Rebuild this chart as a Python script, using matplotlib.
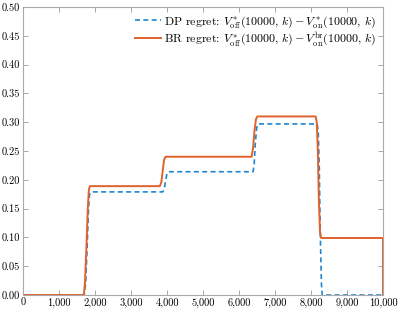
import matplotlib
matplotlib.use("Agg")
import matplotlib.pyplot as plt
from matplotlib.ticker import FuncFormatter

plt.rcParams['font.family'] = ['cmr10', 'DejaVu Serif']
plt.rcParams['mathtext.fontset'] = 'cm'
plt.rcParams['axes.unicode_minus'] = False

# DP regret series
dp_k = [0, 1700, 1740, 1780, 1820, 1850, 1890, 3880, 3920, 3960, 4000, 4040,
        6390, 6420, 6450, 6490, 6530, 8170, 8200, 8230, 8260, 8290, 8310, 10000]
dp_v = [0, 0, 0.02, 0.08, 0.15, 0.175, 0.179, 0.179, 0.183, 0.198, 0.211, 0.214,
        0.214, 0.225, 0.26, 0.29, 0.297, 0.297, 0.285, 0.22, 0.10, 0.02, 0, 0]

# BR regret series
br_k = [0, 1690, 1720, 1760, 1800, 1830, 1860, 3800, 3840, 3880, 3920, 3960,
        6350, 6390, 6430, 6470, 6510, 8130, 8160, 8190, 8220, 8250, 8280, 10000, 10000]
br_v = [0, 0, 0.02, 0.08, 0.15, 0.183, 0.189, 0.189, 0.195, 0.215, 0.235, 0.24,
        0.24, 0.255, 0.285, 0.305, 0.31, 0.31, 0.30, 0.25, 0.16, 0.11, 0.099, 0.099, 0]

x_ticks = [0, 1000, 2000, 3000, 4000, 5000, 6000, 7000, 8000, 9000, 10000]
y_ticks = [0.00, 0.05, 0.10, 0.15, 0.20, 0.25, 0.30, 0.35, 0.40, 0.45, 0.50]

dp_label = r'DP regret: $V^*_{\mathrm{off}}(10000,\,k) - V^*_{\mathrm{on}}(10000,\,k)$'
br_label = r'BR regret: $V^*_{\mathrm{off}}(10000,\,k) - V^{\mathrm{br}}_{\mathrm{on}}(10000,\,k)$'

fig = plt.figure(figsize=(3.99, 3.10), dpi=100)
ax = fig.add_axes([23/399, 15/310, 360/399, 288/310])

ax.plot(dp_k, dp_v, color='#1f86d0', lw=1.2, ls=(0, (3, 2)), label=dp_label)
ax.plot(br_k, br_v, color='#e0622c', lw=1.4, label=br_label)

ax.set_xlim(0, 10000)
ax.set_ylim(0, 0.5)
ax.set_xticks(x_ticks)
ax.set_yticks(y_ticks)
ax.xaxis.set_major_formatter(FuncFormatter(lambda v, p: f"{v:,.0f}"))
ax.yaxis.set_major_formatter(FuncFormatter(lambda v, p: f"{v:.2f}"))
ax.tick_params(direction='in', top=True, right=True, length=3.5, width=0.6,
               color='#999999', labelsize=7.5, pad=2)
for s in ax.spines.values():
    s.set_color('#aaaaaa')
    s.set_linewidth(0.8)

leg = ax.legend(loc='upper right', frameon=False, fontsize=8.6, handlelength=2.2,
                handletextpad=0.2, borderaxespad=0.2, labelspacing=0.05)

fig.savefig('out.png', dpi=100)
